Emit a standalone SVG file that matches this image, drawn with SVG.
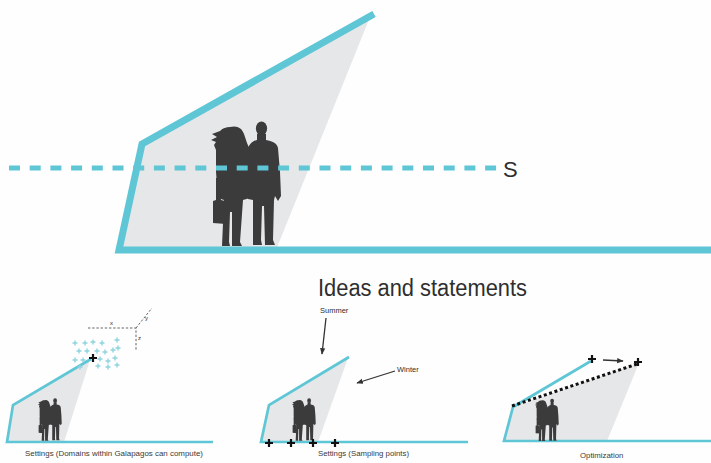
<svg xmlns="http://www.w3.org/2000/svg" xmlns:xlink="http://www.w3.org/1999/xlink" width="711" height="463" viewBox="0 0 711 463">
  <style>
    .shade { fill: #e6e7e8; }
    .frame { fill: none; stroke: #5fc6d6; stroke-linejoin: miter; stroke-linecap: butt; }
    .people { fill: #3b3b3b; }
    .label { font-family: "Liberation Sans", Arial, sans-serif; fill: #2e2e2e; }
    .caption { font-family: "Liberation Sans", Arial, sans-serif; font-size: 7.8px; fill: #3a3a3a; }
    .axis { fill: none; stroke: #666; stroke-width: 1; stroke-dasharray: 2.4 1.8; }
    .arrow { fill: none; stroke: #333; stroke-width: 1.3; }
    .mark { fill: none; stroke: #111; stroke-width: 2.2; }
    .cmark { fill: none; stroke: #8fd4e0; stroke-width: 1.4; }
  </style>
  <defs>
    <!-- couple silhouette, drawn at full size -->
    <g id="couple" class="people">
      <ellipse cx="261.5" cy="128.5" rx="5.6" ry="7"/>
      <path d="M257,134 L266,134 L266,140 C272,141 277,143 278,148 L280,172 L281,196 L278,201 L275,196 L274,200 L273,240 L275,245 L265,245 L264,206 L262,206 L261,240 L262,245 L253,245 L253,200 L248,199 L247,152 C248,145 252,141 257,140 Z"/>
      <path d="M230,127 C237,125 242,128 244,134 L247,143 L250,150 L250,198 L243,200 L240,242 L242,246 L232,246 L232,212 L230,212 L229,242 L230,246 L222,246 L224,200 L218,198 L216,172 L216,150 L214,145 L216,142 L211,140 L217,137 L212,134 L220,131 C223,128 226,127 230,127 Z"/>
      <path d="M216,178 L218,178 L221,200 L225,201 L226,224 L213,223 L213,201 L216,200 Z"/>
    </g>
    <path id="bplus" class="mark" d="M-4,0H4M0,-4V4"/>
    <path id="cplus" class="cmark" d="M-2.5,0H2.5M0,-2.5V2.5"/>
    <marker id="head" viewBox="0 0 10 10" refX="9" refY="5" markerWidth="5" markerHeight="5" orient="auto" markerUnits="strokeWidth">
      <path d="M0,1 L10,5 L0,9 Z" fill="#333"/>
    </marker>
  </defs>

  <rect width="711" height="463" fill="#fefefe"/>

  <!-- large section with horizon line -->
  <g id="section-main">
    <polygon class="shade" points="143,143 371,15 368,22 276,250 120,250"/>
    <polyline class="frame" stroke-width="7" points="374,14 142,144 119,250 711,250"/>
    <use xlink:href="#couple"/>
    <line x1="9" y1="168" x2="499" y2="168" stroke="#5fc6d6" stroke-width="5" stroke-dasharray="11 9.7"/>
    <text class="label" x="503" y="177" font-size="22">S</text>
  </g>

  <g id="title">
    <text class="label" x="318" y="296" font-size="23" textLength="209" lengthAdjust="spacingAndGlyphs">Ideas and statements</text>
  </g>

  <!-- panel 1: domains -->
  <g id="panel-domains">
    <polygon class="shade" points="13,405 90,360 64,442 7,442"/>
    <polyline class="frame" stroke-width="2.7" points="91,359 13,405 7,442 213,442"/>
    <use xlink:href="#couple" transform="translate(-33.8,357) scale(0.34)"/>
    <g>
      <use xlink:href="#cplus" x="75" y="343"/>
      <use xlink:href="#cplus" x="85" y="343"/>
      <use xlink:href="#cplus" x="93" y="342"/>
      <use xlink:href="#cplus" x="102" y="343"/>
      <use xlink:href="#cplus" x="117" y="340"/>
      <use xlink:href="#cplus" x="79" y="351"/>
      <use xlink:href="#cplus" x="87" y="351"/>
      <use xlink:href="#cplus" x="97" y="351"/>
      <use xlink:href="#cplus" x="105" y="352"/>
      <use xlink:href="#cplus" x="113" y="350"/>
      <use xlink:href="#cplus" x="118" y="348"/>
      <use xlink:href="#cplus" x="75" y="360"/>
      <use xlink:href="#cplus" x="83" y="360"/>
      <use xlink:href="#cplus" x="100" y="359"/>
      <use xlink:href="#cplus" x="108" y="361"/>
      <use xlink:href="#cplus" x="115" y="358"/>
      <use xlink:href="#cplus" x="80" y="367"/>
      <use xlink:href="#cplus" x="98" y="366"/>
      <use xlink:href="#cplus" x="108" y="367"/>
      <use xlink:href="#cplus" x="117" y="365"/>
    </g>
    <use xlink:href="#bplus" x="93" y="358"/>
    <path class="axis" d="M88,328 H136 V351 M136,328 L152,308"/>
    <text class="label" x="110" y="325" font-size="6">x</text>
    <text class="label" x="145" y="320" font-size="6">y</text>
    <text class="label" x="138" y="340" font-size="6">z</text>
    <text class="caption" x="25" y="456" textLength="178" lengthAdjust="spacingAndGlyphs">Settings (Domains within Galapagos can compute)</text>
  </g>

  <!-- panel 2: sampling points -->
  <g id="panel-sampling">
    <polygon class="shade" points="269,405 348,358 318,442 261,442"/>
    <polyline class="frame" stroke-width="2.7" points="349,357 269,405 261,442 468,442"/>
    <use xlink:href="#couple" transform="translate(220.2,357) scale(0.34)"/>
    <use xlink:href="#bplus" x="269" y="443"/>
    <use xlink:href="#bplus" x="291" y="443"/>
    <use xlink:href="#bplus" x="313" y="443"/>
    <use xlink:href="#bplus" x="335" y="443"/>
    <text class="label" x="320" y="313" font-size="7.5">Summer</text>
    <text class="label" x="397" y="372" font-size="7.5">Winter</text>
    <text class="caption" x="318" y="456">Settings (Sampling points)</text>
  </g>

  <!-- panel 3: optimization -->
  <g id="panel-optimization">
    <polygon class="shade" points="513,407 639,363 607,441 504,441"/>
    <polyline class="frame" stroke-width="2.7" points="591,361 513,407 504,441 711,441"/>
    <use xlink:href="#couple" transform="translate(463.2,357.4) scale(0.34)"/>
    <line x1="512" y1="406" x2="637" y2="364" stroke="#111" stroke-width="3" stroke-dasharray="3 2.6"/>
    <use xlink:href="#bplus" x="592" y="359"/>
    <use xlink:href="#bplus" x="638" y="362"/>
    <text class="caption" x="580" y="458">Optimization</text>
  </g>

  <!-- pointer arrows -->
  <g id="connectors">
    <line class="arrow" x1="326" y1="318" x2="322" y2="354" marker-end="url(#head)"/>
    <line class="arrow" x1="395" y1="371" x2="357" y2="383" marker-end="url(#head)"/>
    <line class="arrow" x1="603" y1="360" x2="623" y2="361" marker-end="url(#head)"/>
  </g>
</svg>
